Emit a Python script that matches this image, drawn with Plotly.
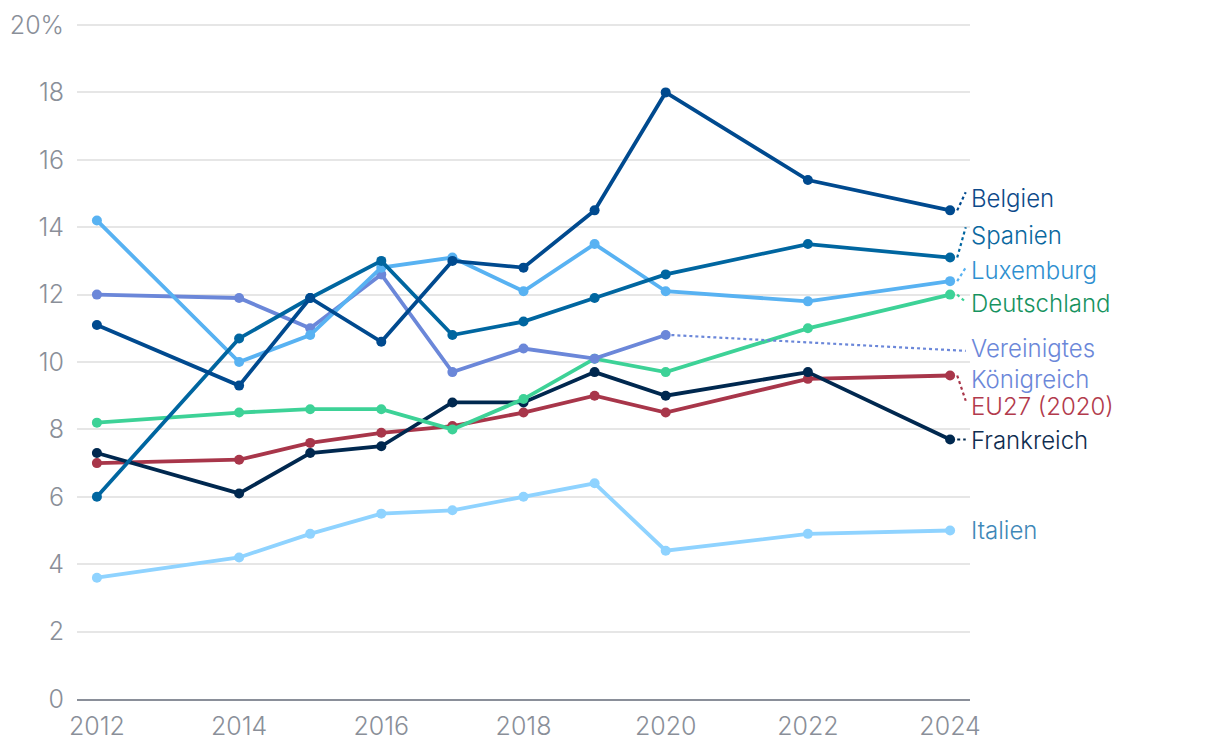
import plotly.graph_objects as go

years = [2012, 2014, 2015, 2016, 2017, 2018, 2019, 2020, 2022, 2024]
years_uk = [2012, 2014, 2015, 2016, 2017, 2018, 2019, 2020]

belgien = [11.1, 9.3, 11.9, 10.6, 13.0, 12.8, 14.5, 18.0, 15.4, 14.5]
spanien = [6.0, 10.7, 11.9, 13.0, 10.8, 11.2, 11.9, 12.6, 13.5, 13.1]
luxemburg = [14.2, 10.0, 10.8, 12.8, 13.1, 12.1, 13.5, 12.1, 11.8, 12.4]
deutschland = [8.2, 8.5, 8.6, 8.6, 8.0, 8.9, 10.1, 9.7, 11.0, 12.0]
vereinigtes_koenigreich = [12.0, 11.9, 11.0, 12.6, 9.7, 10.4, 10.1, 10.8]
eu27 = [7.0, 7.1, 7.6, 7.9, 8.1, 8.5, 9.0, 8.5, 9.5, 9.6]
frankreich = [7.3, 6.1, 7.3, 7.5, 8.8, 8.8, 9.7, 9.0, 9.7, 7.7]
italien = [3.6, 4.2, 4.9, 5.5, 5.6, 6.0, 6.4, 4.4, 4.9, 5.0]

y_ticks = [0, 2, 4, 6, 8, 10, 12, 14, 16, 18, 20]
y_ticktext = ["0", "2", "4", "6", "8", "10", "12", "14", "16", "18", "20%"]
x_ticks = [2012, 2014, 2016, 2018, 2020, 2022, 2024]

series = [
    ("Italien", years, italien, "#8fd3ff", "#3f88b8", 4.99, None),
    ("EU27 (2020)", years, eu27, "#a8364a", "#b23a4c", 8.68, 8.85),
    ("Frankreich", years, frankreich, "#00284f", "#0f2d50", 7.66, 7.7),
    ("Deutschland", years, deutschland, "#3dd297", "#17935f", 11.75, 11.78),
    ("Vereinigtes<br>Königreich", years_uk, vereinigtes_koenigreich, "#6b87d9", "#6b87d9", 9.94, 10.33),
    ("Luxemburg", years, luxemburg, "#58b2f2", "#2e8fd0", 12.73, 12.8),
    ("Spanien", years, spanien, "#0066a0", "#0a68a0", 13.74, 14.0),
    ("Belgien", years, belgien, "#004a8f", "#0d4a8a", 14.84, 15.04),
]

FONT = "Inter"
WEIGHT = 300
fig = go.Figure()
annotations = []
shapes = []
for name, xs, ys, col, lcol, label_y, conn_y in series:
    fig.add_trace(go.Scatter(
        x=xs, y=ys, mode="lines+markers", name=name,
        line=dict(color=col, width=3.8),
        marker=dict(color=col, size=10),
        cliponaxis=False, showlegend=False, hoverinfo="x+y",
    ))
    annotations.append(dict(
        x=2024.27, y=label_y, xref="x", yref="y", text=name,
        xanchor="left", yanchor="middle", showarrow=False, align="left",
        font=dict(family=FONT, size=24, color=lcol, weight=WEIGHT),
    ))
    if conn_y is not None:
        x0 = xs[-1] + (0.1 if xs[-1] == 2024 else 0.08)
        shapes.append(dict(
            type="line", xref="x", yref="y",
            x0=x0, y0=ys[-1], x1=2024.22, y1=conn_y,
            line=dict(color=col, width=2.2, dash="dot"),
        ))

fig.update_layout(
    width=1220, height=752,
    margin=dict(l=69, r=258, t=16, b=61),
    paper_bgcolor="white", plot_bgcolor="white",
    annotations=annotations, shapes=shapes,
    font=dict(family=FONT, size=24, color="#8a8f99", weight=WEIGHT),
)
fig.update_xaxes(
    range=[2011.72, 2024.28], tickvals=x_ticks,
    showgrid=False, zeroline=False, showline=True,
    linecolor="#8a8f99", linewidth=2, ticks="",
    tickfont=dict(family=FONT, size=25, color="#8a8f99", weight=WEIGHT),
    ticklabelstandoff=4, automargin=False,
)
fig.update_yaxes(
    range=[0, 20.03], tickvals=y_ticks, ticktext=y_ticktext,
    showgrid=True, gridcolor="#e6e6e6", gridwidth=2,
    zeroline=False, showline=False, ticks="",
    tickfont=dict(family=FONT, size=25, color="#8a8f99", weight=WEIGHT),
    ticklabelstandoff=12, automargin=False,
)

fig.write_html("out.html")
